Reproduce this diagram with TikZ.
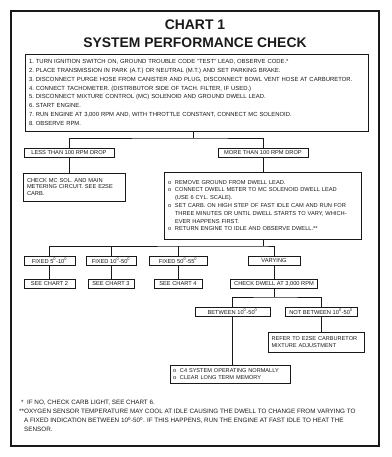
\documentclass[tikz,border=0pt]{standalone}
\usepackage{fontspec}
\setmainfont{Liberation Sans}
\newcommand{\bu}{\makebox[7pt][l]{o}}
\newcommand{\hi}{\hspace*{7pt}}
\newcommand{\dg}{\textsuperscript{0}}
\definecolor{ink}{RGB}{25,25,25}
\begin{document}
\begin{tikzpicture}[x=1pt,y=-1pt,
  box/.style={draw=ink, text=ink, line width=0.8pt, inner sep=0pt, font=\fontsize{5.7}{7}\selectfont},
  lbl/.style={box, minimum height=9pt},
  txt/.style={box, align=left, inner xsep=4pt},
  link/.style={draw=ink, line width=0.8pt},
  ttl/.style={text=ink, font=\fontsize{13.9}{15}\selectfont\bfseries, inner sep=0pt},
  note/.style={text=ink, align=left, inner sep=0pt, anchor=north west, font=\fontsize{6.3}{9}\selectfont}]
\useasboundingbox (0,0) rectangle (391,457);
\draw[draw=ink, line width=2pt] (11,11) rectangle (379,446);
\node[ttl] (t1) at (195,25) {CHART 1};
\node[ttl] (t2) at (195,43) {SYSTEM PERFORMANCE CHECK};
\node[txt, inner xsep=4pt, text width=335pt, minimum height=77pt, font=\fontsize{5.9}{8.8}\selectfont] (steps) at (196.5,92.5) {%
1.\ TURN IGNITION SWITCH ON, GROUND TROUBLE CODE ``TEST'' LEAD, OBSERVE CODE.*\\
2.\ PLACE TRANSMISSION IN PARK (A.T.) OR NEUTRAL (M.T.) AND SET PARKING BRAKE.\\
3.\ DISCONNECT PURGE HOSE FROM CANISTER AND PLUG, DISCONNECT BOWL VENT HOSE AT CARBURETOR.\\
4.\ CONNECT TACHOMETER. (DISTRIBUTOR SIDE OF TACH. FILTER, IF USED.)\\
5.\ DISCONNECT MIXTURE CONTROL (MC) SOLENOID AND GROUND DWELL LEAD.\\
6.\ START ENGINE.\\
7.\ RUN ENGINE AT 3,000 RPM AND, WITH THROTTLE CONSTANT, CONNECT MC SOLENOID.\\
8.\ OBSERVE RPM.};
\node[lbl, minimum width=90pt] (less) at (69,152.5) {LESS THAN 100 RPM DROP};
\node[lbl, minimum width=90pt] (more) at (263,152.5) {MORE THAN 100 RPM DROP};
\node[txt, text width=94pt, minimum height=28pt, font=\fontsize{5.7}{6.6}\selectfont] (check) at (74,187) {%
CHECK MC SOL. AND MAIN\\ METERING CIRCUIT. SEE E2SE\\ CARB.};
\node[txt, text width=189pt, minimum height=67pt, font=\fontsize{5.7}{7.8}\selectfont] (big) at (262.5,205.5) {%
\bu REMOVE GROUND FROM DWELL LEAD.\\
\bu CONNECT DWELL METER TO MC SOLENOID DWELL LEAD\\
\hi (USE 6 CYL. SCALE).\\
\bu SET CARB. ON HIGH STEP OF FAST IDLE CAM AND RUN FOR\\
\hi THREE MINUTES OR UNTIL DWELL STARTS TO VARY, WHICH-\\
\hi EVER HAPPENS FIRST.\\
\bu RETURN ENGINE TO IDLE AND OBSERVE DWELL.**};
\node[lbl, minimum width=51pt] (f1) at (49.5,260.5) {FIXED 5\dg-10\dg};
\node[lbl, minimum width=50pt] (f2) at (111,260.5) {FIXED 10\dg-50\dg};
\node[lbl, minimum width=58pt] (f3) at (178,260.5) {FIXED 50\dg-55\dg};
\node[lbl, minimum width=52pt] (var) at (274,260.5) {VARYING};
\node[lbl, minimum width=51pt] (c2) at (49.5,284) {SEE CHART 2};
\node[lbl, minimum width=46pt] (c3) at (111,284) {SEE CHART 3};
\node[lbl, minimum width=48pt] (c4) at (178,284) {SEE CHART 4};
\node[lbl, minimum width=87pt] (dw) at (274,284) {CHECK DWELL AT 3,000 RPM};
\node[lbl, minimum width=75pt] (bt) at (232.5,311.5) {BETWEEN 10\dg-50\dg};
\node[lbl, minimum width=72pt] (nbt) at (321,311.5) {NOT BETWEEN 10\dg-50\dg};
\node[txt, inner xsep=3pt, text width=90pt, minimum height=20pt, font=\fontsize{5.6}{7.2}\selectfont] (ref) at (316.5,342) {%
REFER TO E2SE CARBURETOR\\ MIXTURE ADJUSTMENT};
\node[txt, inner xsep=3pt, text width=114pt, minimum height=18pt, font=\fontsize{5.6}{7.8}\selectfont] (ca) at (230,374) {%
\bu C4 SYSTEM OPERATING NORMALLY\\ \bu CLEAR LONG TERM MEMORY};
\node[note] (fn1) at (21,400) {*\ \ IF NO, CHECK CARB LIGHT, SEE CHART 6.};
\node[note] (fn2) at (19,409) {%
**OXYGEN SENSOR TEMPERATURE MAY COOL AT IDLE CAUSING THE DWELL TO CHANGE FROM VARYING TO\\
\hspace*{5pt}A FIXED INDICATION BETWEEN 10\dg-50\dg. IF THIS HAPPENS, RUN THE ENGINE AT FAST IDLE TO HEAT THE\\
\hspace*{5pt}SENSOR.};
% connectors
\coordinate (j1) at (193,138);
\coordinate (j2) at (263,246);
\coordinate (j3) at (274,297);
\draw[link] (steps.south -| j1) -- (j1);
\draw[link] (less.north) |- (j1) -| (more.north);
\draw[link] (less.south) -- (less.south |- check.north);
\draw[link] (more.south) -- (more.south |- big.north);
\draw[link] (big.south -| j2) -- (j2);
\draw[link] (f1.north) |- (j2) -| (var.north);
\draw[link] (f2.north) -- (f2.north |- j2);
\draw[link] (f3.north) -- (f3.north |- j2);
\draw[link] (f1) -- (c2);
\draw[link] (f2) -- (c3);
\draw[link] (f3) -- (c4);
\draw[link] (var) -- (dw);
\draw[link] (dw.south) -- (j3);
\draw[link] (bt.north) |- (j3) -| (nbt.north);
\draw[link] (bt.south) -- (bt.south |- ca.north);
\draw[link] (nbt.south) -- (nbt.south |- ref.north);
\end{tikzpicture}
\end{document}
